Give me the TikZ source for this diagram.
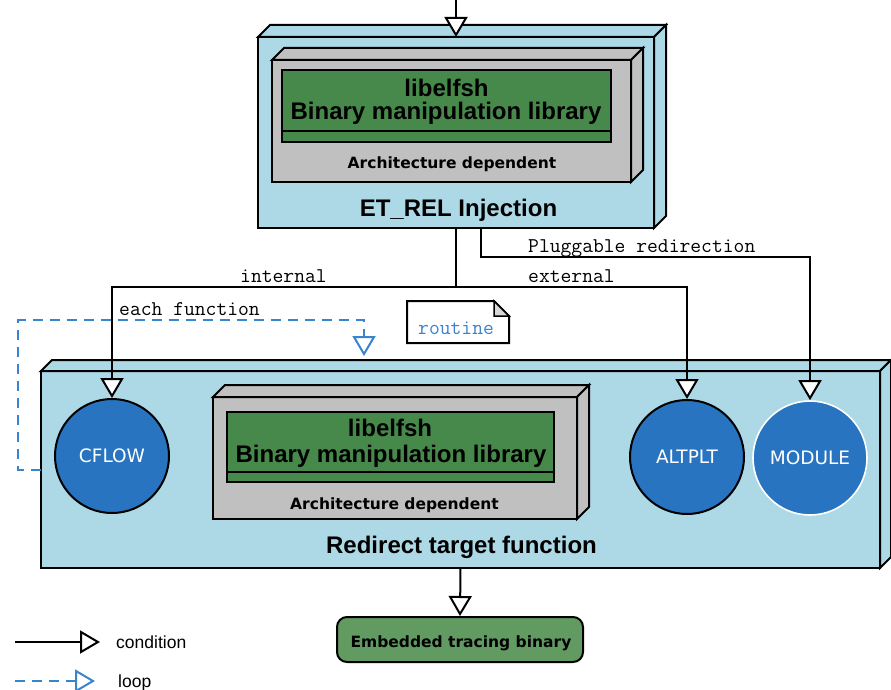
\documentclass[tikz,border=0pt]{standalone}
\usepackage{fontspec}
\setmainfont{Liberation Sans}
\newfontfamily\dejavu{DejaVu Sans}
\usetikzlibrary{arrows.meta,calc}
\definecolor{lblue}{RGB}{173,216,230}
\definecolor{lgray}{RGB}{192,192,192}
\definecolor{dgreen}{RGB}{71,137,74}
\definecolor{egreen}{RGB}{98,155,98}
\definecolor{cblue}{RGB}{40,116,192}
\definecolor{loopblue}{RGB}{58,132,206}
\definecolor{foldgray}{RGB}{215,215,215}
\tikzset{
  boxline/.style={draw=black, line width=2pt, line join=miter},
  face/.style={boxline, rectangle, inner sep=0pt, outer sep=0pt},
  bigtxt/.style={font=\bfseries\fontsize{24}{25}\selectfont, inner sep=0pt, anchor=base},
  archtxt/.style={font=\dejavu\bfseries\fontsize{15.5}{17}\selectfont, inner sep=0pt, anchor=base},
  circ/.style={circle, minimum size=114pt, inner sep=0pt, fill=cblue, text=white,
    font=\dejavu\fontsize{18.5}{20}\selectfont, line width=2pt},
  cond/.style={draw=black, line width=2pt, -{Triangle[length=20pt,width=23pt,fill=white]}},
  loopline/.style={cond, draw=loopblue, dash pattern=on 10pt off 7pt},
  lbl/.style={font=\ttfamily\fontsize{21}{22}\selectfont, inner sep=0pt, anchor=base west},
  legtxt/.style={font=\fontsize{17.5}{19}\selectfont, inner sep=0pt, anchor=base west}
}
\newcommand\extrude[3]{%
  \draw[boxline, fill=#2] (#1.north west) -- ++(#3,#3) -- ($(#1.north east)+(#3,#3)$) -- (#1.north east) -- cycle;
  \draw[boxline, fill=#2] (#1.north east) -- ++(#3,#3) -- ($(#1.south east)+(#3,#3)$) -- (#1.south east) -- cycle;}
\begin{document}
\begin{tikzpicture}[x=1pt,y=1pt]
\useasboundingbox[fill=white] (0,0) rectangle (891,-690);

% ---------- top box: ET_REL Injection
\node[face, fill=lblue, minimum width=396pt, minimum height=191pt] (et) at (456,-132.5) {};
\extrude{et}{lblue}{12}
\node[face, fill=lgray, minimum width=359pt, minimum height=122pt] (etg) at (451.5,-121) {};
\extrude{etg}{lgray}{12}
\node[face, fill=dgreen, minimum width=329pt, minimum height=72pt] (etl) at (446.5,-106) {};
\draw[boxline] ($(etl.south west)+(0,11)$) -- ($(etl.south east)+(0,11)$);
\node[bigtxt] (etl1) at (446.5,-97) {libelfsh};
\node[bigtxt] (etl2) at (446,-119.5) {Binary manipulation library};
\node[archtxt] (eta) at (452,-168) {Architecture dependent};
\node[bigtxt] (ett) at (458.5,-216.5) {ET\_REL Injection};

% ---------- middle box: Redirect target function
\node[face, fill=lblue, minimum width=839pt, minimum height=197pt] (mid) at (460.5,-469.5) {};
\extrude{mid}{lblue}{11}
\node[face, fill=lgray, minimum width=364pt, minimum height=122pt] (midg) at (395,-458) {};
\extrude{midg}{lgray}{12}
\node[face, fill=dgreen, minimum width=327pt, minimum height=70pt] (midl) at (390.5,-447) {};
\draw[boxline] ($(midl.south west)+(0,10)$) -- ($(midl.south east)+(0,10)$);
\node[bigtxt] (midl1) at (390,-436.5) {libelfsh};
\node[bigtxt] (midl2) at (391,-462) {Binary manipulation library};
\node[archtxt] (mida) at (394.5,-509) {Architecture dependent};
\node[bigtxt] (midt) at (461.5,-553) {Redirect target function};

% circles
\node[circ, draw=black] (cflow) at (112,-456) {CFLOW};
\node[circ, draw=black] (altplt) at (687,-457) {ALTPLT};
\node[circ, draw=white, line width=1.6pt] (module) at (810,-458) {MODULE};

% ---------- embedded tracing binary
\node[boxline, fill=egreen, rounded corners=10pt, minimum width=246pt, minimum height=45pt, inner sep=0pt] (emb) at (460,-639.5) {};
\node[archtxt] (embt) at (461,-647) {Embedded tracing binary};

% ---------- note
\node[inner sep=0pt, outer sep=0pt, minimum width=102pt, minimum height=42pt] (note) at (458,-322) {};
\draw[boxline, fill=white] (note.south west) -- (note.north west) -- ($(note.north east)+(-15,0)$)
  -- ($(note.north east)+(0,-15)$) -- (note.south east) -- cycle;
\draw[boxline, fill=foldgray, line width=1.5pt] ($(note.north east)+(-15,0)$) -- ($(note.north east)+(-15,-15)$)
  -- ($(note.north east)+(0,-15)$) -- cycle;
\node[lbl, text=loopblue] (rt) at (418,-334) {routine};

% ---------- connectors
\coordinate (src) at (456,0);
\draw[cond] (src) -- (et.north);
\draw[cond] (et.south) -- ++(0,-59) -| (cflow.north);
\draw[cond] (et.south) -- ++(0,-59) -| (altplt.north);
\draw[cond] ($(et.south)+(25,0)$) -- ++(0,-29) -| (module.north);
\draw[cond] (mid.south) -- (emb.north);
\coordinate (looptgt) at (364,-356);
\draw[loopline] (mid.west) -- ++(-23,0) |- ($(looptgt)+(0,36)$) -- (looptgt);

\node[lbl] (lint) at (240,-282) {internal};
\node[lbl] (lext) at (528,-282) {external};
\node[lbl] (lplug) at (528,-252) {Pluggable redirection};
\node[lbl] (leach) at (119,-315) {each function};

% ---------- legend
\coordinate (lc1) at (15,-642);
\coordinate (lc2) at (100,-642);
\draw[cond] (lc1) -- (lc2);
\node[legtxt] (lcond) at (116,-648) {condition};
\coordinate (ll1) at (15,-681);
\coordinate (ll2) at (95,-681);
\draw[loopline] (ll1) -- (ll2);
\node[legtxt] (lloop) at (118,-687) {loop};
\end{tikzpicture}
\end{document}
